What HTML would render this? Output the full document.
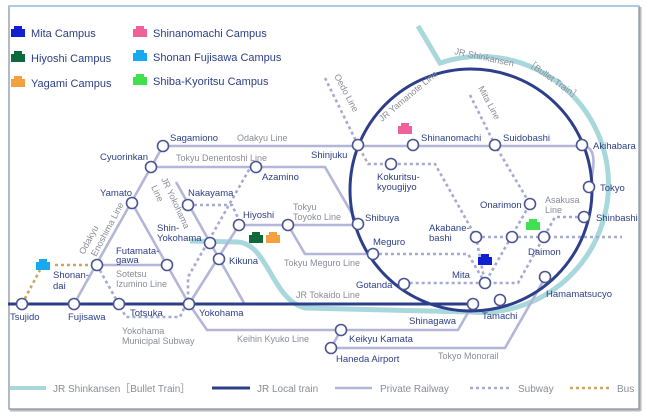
<!DOCTYPE html>
<html><head><meta charset="utf-8"><style>
html,body{margin:0;padding:0;background:#fff;}
svg{display:block;font-family:"Liberation Sans",sans-serif;}
.st{fill:#fff;stroke:#4a5590;stroke-width:1.6}
.n{fill:#2c3e85;font-size:9.5px}
.l{fill:#8a8c98;font-size:9px}
.pr{stroke:#b3b6d8;stroke-width:2.6;fill:none}
.sb{stroke:#a6aad0;stroke-width:2.6;fill:none;stroke-dasharray:3 3}
</style></head><body>
<svg width="647" height="420" viewBox="0 0 647 420">
<rect x="9" y="6" width="630" height="403" fill="#fff" stroke="#7f8c9c" stroke-width="1.2"/>
<line x1="9" y1="6" x2="639" y2="6" stroke="#a8cde0" stroke-width="2"/>
<line x1="10" y1="410.5" x2="640" y2="410.5" stroke="#bbb" stroke-width="2"/>
<line x1="640.5" y1="7" x2="640.5" y2="411" stroke="#bbb" stroke-width="2"/>

<g>
<path d="M11,37 v-8 h3 v-3 h8 v3 h3 v8z" fill="#1020d0"/>
<path d="M11,62 v-8 h3 v-3 h8 v3 h3 v8z" fill="#0e6a3a"/>
<path d="M11,87 v-8 h3 v-3 h8 v3 h3 v8z" fill="#f5a040"/>
<path d="M133,37 v-8 h3 v-3 h8 v3 h3 v8z" fill="#f0609a"/>
<path d="M133,61 v-8 h3 v-3 h8 v3 h3 v8z" fill="#18aaf0"/>
<path d="M133,85 v-8 h3 v-3 h8 v3 h3 v8z" fill="#40e050"/>
<g fill="#2c3e85" font-size="11px">
<text x="31" y="37">Mita Campus</text>
<text x="31" y="62">Hiyoshi Campus</text>
<text x="31" y="87">Yagami Campus</text>
<text x="153" y="37">Shinanomachi Campus</text>
<text x="153" y="61">Shonan Fujisawa Campus</text>
<text x="153" y="85">Shiba-Kyoritsu Campus</text>
</g>
</g>

<path d="M190,241 L238,242 C268,244 272,300 305,308 L470,312 A128,128 0 1 0 440,63 L418,26" stroke="#a8d8dc" stroke-width="5" fill="none"/>

<path class="pr" d="M163,146 H582 C600,146 592,175 590,187"/>
<path class="pr" d="M163,146 L74,304"/>
<path class="pr" d="M132,203 L189,304"/>
<path class="pr" d="M97,265 H167"/>
<path class="pr" d="M151,167 H325 L358,224"/>
<path class="pr" d="M176,182 L244,303"/>
<path class="pr" d="M189,304 L239,225 H358"/>
<path class="pr" d="M288,225 L305,254 H373"/>
<path class="pr" d="M189,304 L207,330 H458 L473,304"/>
<path class="pr" d="M341,330 L331,348 H505 L545,278"/>

<path class="sb" d="M325,78 L358,145 L368,164 H435 L476,237 L485,283"/>
<path class="sb" d="M476,237 H622"/>
<path class="sb" d="M470,95 L495,145 L530,204 L485,283"/>
<path class="sb" d="M584,217 H555 L518,283 H404"/>
<path class="sb" d="M373,254 H468 L485,283"/>
<path class="sb" d="M97,265 L126,317 H180 L188,300 L188,277 L250,168"/>
<path class="sb" d="M188,205 H232 L239,220"/>
<path d="M22,304 L40,270 M55,265 H92" stroke="#c8a860" stroke-width="2.6" stroke-dasharray="3 3" fill="none"/>

<line x1="8" y1="304" x2="473" y2="304" stroke="#2d3f8a" stroke-width="3"/>
<circle cx="471" cy="190" r="121" stroke="#2d3f8a" stroke-width="3" fill="none"/>

<path d="M36,270 v-8 h3 v-3 h8 v3 h3 v8z" fill="#18aaf0"/>
<path d="M249,243 v-8 h3 v-3 h8 v3 h3 v8z" fill="#0e6a3a"/>
<path d="M266,243 v-8 h3 v-3 h8 v3 h3 v8z" fill="#f5a040"/>
<path d="M478,265 v-8 h3 v-3 h8 v3 h3 v8z" fill="#1020d0"/>
<path d="M526,230 v-8 h3 v-3 h8 v3 h3 v8z" fill="#40e050"/>
<path d="M398,134 v-8 h3 v-3 h8 v3 h3 v8z" fill="#f0609a"/>

<g class="st">
<circle cx="22" cy="304" r="5.5"/><circle cx="74" cy="304" r="5.5"/><circle cx="119" cy="304" r="5.5"/>
<circle cx="189" cy="304" r="5.5"/><circle cx="97" cy="265" r="5.5"/><circle cx="167" cy="265" r="5.5"/>
<circle cx="132" cy="203" r="5.5"/><circle cx="151" cy="167" r="5.5"/><circle cx="163" cy="146" r="5.5"/>
<circle cx="256" cy="167" r="5.5"/><circle cx="188" cy="205" r="5.5"/><circle cx="239" cy="225" r="5.5"/>
<circle cx="288" cy="225" r="5.5"/><circle cx="210" cy="243" r="5.5"/><circle cx="219" cy="259" r="5.5"/>
<circle cx="358" cy="145" r="5.5"/><circle cx="413" cy="145" r="5.5"/><circle cx="495" cy="145" r="5.5"/>
<circle cx="582" cy="145" r="5.5"/><circle cx="391" cy="164" r="5.5"/><circle cx="589" cy="187" r="5.5"/>
<circle cx="530" cy="204" r="5.5"/><circle cx="584" cy="217" r="5.5"/><circle cx="476" cy="237" r="5.5"/>
<circle cx="512" cy="237" r="5.5"/><circle cx="544" cy="237" r="5.5"/><circle cx="485" cy="283" r="5.5"/>
<circle cx="404" cy="284" r="5.5"/><circle cx="373" cy="254" r="5.5"/><circle cx="358" cy="224" r="5.5"/>
<circle cx="473" cy="304" r="5.5"/><circle cx="500" cy="300" r="5.5"/><circle cx="545" cy="277" r="5.5"/>
<circle cx="341" cy="330" r="5.5"/><circle cx="331" cy="348" r="5.5"/>
</g>

<g class="n">
<text x="10" y="320">Tsujido</text><text x="68" y="320">Fujisawa</text><text x="130" y="316">Totsuka</text>
<text x="199" y="316">Yokohama</text><text x="53" y="278">Shonan-</text><text x="53" y="289">dai</text>
<text x="116" y="254">Futamata-</text><text x="116" y="263">gawa</text>
<text x="100" y="196">Yamato</text><text x="100" y="160">Cyuorinkan</text><text x="170" y="141">Sagamiono</text>
<text x="262" y="180">Azamino</text><text x="188" y="196">Nakayama</text><text x="243" y="218">Hiyoshi</text>
<text x="157" y="231">Shin-</text><text x="157" y="241">Yokohama</text><text x="229" y="264">Kikuna</text>
<text x="311" y="158">Shinjuku</text><text x="421" y="141">Shinanomachi</text><text x="503" y="141">Suidobashi</text>
<text x="593" y="149">Akihabara</text><text x="377" y="180">Kokuritsu-</text><text x="377" y="190">kyougijyo</text>
<text x="600" y="191">Tokyo</text><text x="480" y="208">Onarimon</text><text x="596" y="221">Shinbashi</text>
<text x="429" y="231">Akabane-</text><text x="429" y="241">bashi</text><text x="528" y="255">Daimon</text>
<text x="452" y="278">Mita</text><text x="356" y="288">Gotanda</text><text x="373" y="245">Meguro</text>
<text x="365" y="221">Shibuya</text><text x="409" y="324">Shinagawa</text><text x="482" y="319">Tamachi</text>
<text x="546" y="297">Hamamatsucyo</text><text x="349" y="342">Keikyu Kamata</text><text x="336" y="362">Haneda Airport</text>
</g>

<g class="l">
<text x="237" y="141">Odakyu Line</text><text x="176" y="161">Tokyu Denentoshi Line</text>
<text x="293" y="210">Tokyu</text><text x="293" y="220">Toyoko Line</text>
<text x="284" y="266">Tokyu Meguro Line</text><text x="296" y="298">JR Tokaido Line</text>
<text x="237" y="342">Keihin Kyuko Line</text><text x="438" y="359">Tokyo Monorail</text>
<text x="116" y="277">Sotetsu</text><text x="116" y="287">Izumino Line</text>
<text x="122" y="334">Yokohama</text><text x="122" y="344">Municipal Subway</text>
<text x="545" y="203">Asakusa</text><text x="545" y="213">Line</text>
<text transform="translate(84,255) rotate(-62)">Odakyu</text>
<text transform="translate(96,257) rotate(-62)">Enoshima Line</text>
<text transform="translate(161,179) rotate(65)">JR Yokohama</text>
<text transform="translate(151,187) rotate(65)">Line</text>
<text transform="translate(334,76) rotate(62)">Oedo Line</text>
<text transform="translate(478,88) rotate(62)">Mita Line</text>
<text transform="translate(382,122) rotate(-40)">JR Yamanote Line</text>
<text transform="translate(454,54) rotate(12)">JR Shinkansen</text>
<text transform="translate(526,64) rotate(35)">［Bullet Train］</text>
</g>

<line x1="10" y1="388" x2="46" y2="388" stroke="#a8d8dc" stroke-width="4"/>
<line x1="212" y1="388" x2="250" y2="388" stroke="#2d3f8a" stroke-width="3"/>
<line x1="335" y1="388" x2="372" y2="388" stroke="#b3b6d8" stroke-width="2.6"/>
<line x1="470" y1="388" x2="511" y2="388" stroke="#a6aad0" stroke-width="2.6" stroke-dasharray="3 3"/>
<line x1="570" y1="388" x2="611" y2="388" stroke="#c8a860" stroke-width="2.6" stroke-dasharray="3 3"/>
<g fill="#8a8c98" font-size="10px">
<text x="53" y="392">JR Shinkansen［Bullet Train］</text>
<text x="257" y="392">JR Local train</text>
<text x="380" y="392">Private Railway</text>
<text x="518" y="392">Subway</text>
<text x="617" y="392">Bus</text>
</g>
</svg>
</body></html>
